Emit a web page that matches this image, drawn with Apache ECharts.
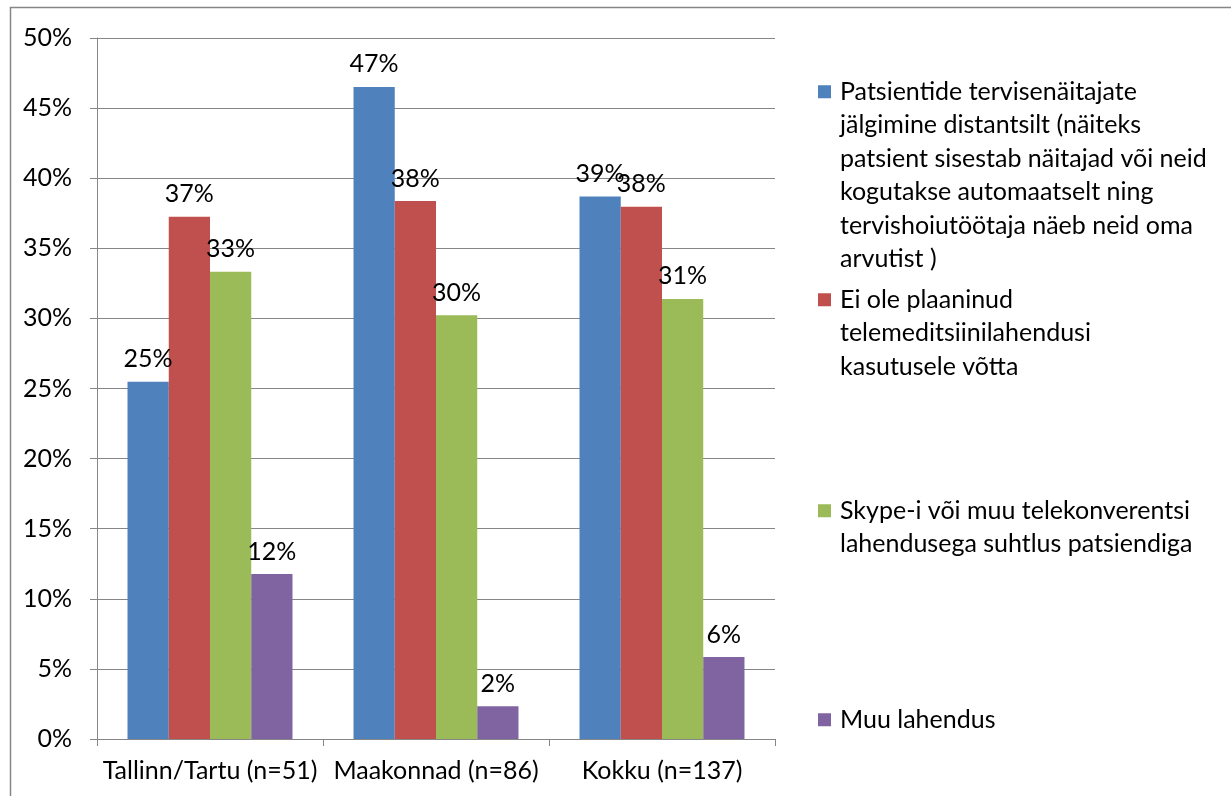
<!DOCTYPE html>
<html>
<head>
<meta charset="utf-8">
<script src="https://cdn.jsdelivr.net/npm/echarts@6/dist/echarts.min.js"></script>
<style>
html,body{margin:0;padding:0;background:#fff;}
#c{width:1231px;height:796px;}
</style>
</head>
<body>
<div id="c"></div>
<script>
var categories = ['Tallinn/Tartu (n=51)', 'Maakonnad (n=86)', 'Kokku (n=137)'];
var seriesNames = [
  'Patsientide tervisenäitajate\njälgimine distantsilt (näiteks\npatsient sisestab näitajad või neid\nkogutakse automaatselt ning\ntervishoiutöötaja näeb neid oma\narvutist )',
  'Ei ole plaaninud\ntelemeditsiinilahendusi\nkasutusele võtta',
  'Skype-i või muu telekonverentsi\nlahendusega suhtlus patsiendiga',
  'Muu lahendus'
];
var valuesRemote = [25.49, 46.51, 38.69];
var valuesNotPlanned = [37.25, 38.37, 37.96];
var valuesSkype = [33.33, 30.23, 31.39];
var valuesOther = [11.76, 2.33, 5.84];
var yTicks = [0, 5, 10, 15, 20, 25, 30, 35, 40, 45, 50];

var colors = ['#4F81BD', '#C0504D', '#9BBB59', '#8064A2'];
var allValues = [valuesRemote, valuesNotPlanned, valuesSkype, valuesOther];
var FONT = 'Lato';
var FS = 25;
var LH = 33.5;

var legendTops = [75, 283, 494, 703];
var legends = seriesNames.map(function (name, i) {
  var lines = name.split('\n').length;
  var h = lines * LH;
  var sq = 13;
  var sy = LH / 2 - sq / 2;
  return {
    show: true,
    left: 818,
    top: legendTops[i],
    orient: 'vertical',
    selectedMode: false,
    data: [name],
    itemWidth: sq,
    itemHeight: h,
    itemGap: 0,
    padding: 0,
    icon: 'path://M0,' + sy + 'h' + sq + 'v' + sq + 'h-' + sq + 'z M0,0L0,0 M0,' + h + 'L0,' + h,
    textStyle: { fontFamily: FONT, fontSize: FS, lineHeight: LH, color: '#000', padding: [0, 0, 0, 4] }
  };
});

var series = seriesNames.map(function (name, i) {
  return {
    name: name,
    type: 'bar',
    data: allValues[i],
    barGap: '0%',
    barCategoryGap: '27%',
    itemStyle: { color: colors[i] },
    label: {
      show: true,
      position: 'top',
      distance: 10,
      fontFamily: FONT,
      fontSize: FS,
      color: '#000',
      formatter: function (p) { return Math.round(p.value) + '%'; }
    }
  };
});

var chart = echarts.init(document.getElementById('c'), null, { renderer: 'canvas' });
chart.setOption({
  animation: false,
  backgroundColor: '#fff',
  color: colors,
  grid: { left: 97, right: 456, top: 38, bottom: 57, containLabel: false },
  legend: legends,
  xAxis: {
    type: 'category',
    data: categories,
    axisLine: { show: true, lineStyle: { color: '#868686', width: 1 } },
    axisTick: { show: true, length: 7, lineStyle: { color: '#868686' } },
    axisLabel: { interval: 0, hideOverlap: false, margin: 19, fontFamily: FONT, fontSize: FS, color: '#000' },
    splitLine: { show: false }
  },
  yAxis: {
    type: 'value',
    min: yTicks[0],
    max: yTicks[yTicks.length - 1],
    interval: yTicks[1] - yTicks[0],
    axisLine: { show: true, lineStyle: { color: '#868686', width: 1 } },
    axisTick: { show: true, length: 7, lineStyle: { color: '#868686' } },
    axisLabel: { margin: 25, fontFamily: FONT, fontSize: FS, color: '#000', formatter: '{value}%' },
    splitLine: { show: true, lineStyle: { color: '#868686', width: 1 } }
  },
  graphic: [{
    type: 'rect',
    silent: true,
    z: -1,
    shape: { x: 10.5, y: 7.5, width: 1240, height: 820 },
    style: { fill: 'none', stroke: '#868686', lineWidth: 1.5 }
  }],
  series: series
});
</script>
</body>
</html>
